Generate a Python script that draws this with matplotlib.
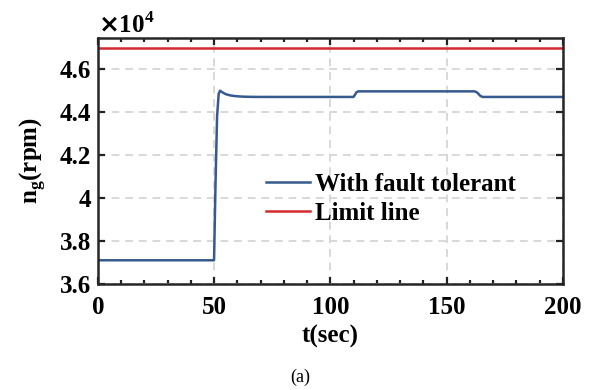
import matplotlib
matplotlib.use("Agg")
import matplotlib.pyplot as plt
from matplotlib.ticker import MultipleLocator, FuncFormatter

plt.rcParams['font.family'] = ['Liberation Serif', 'DejaVu Serif']
plt.rcParams['font.weight'] = 'bold'

# data (speed in rpm)
t_fault = [0, 50, 50.6, 51.3, 52.0, 52.6, 53.5, 55, 57, 59, 62, 66, 70,
           110, 110.6, 111.3, 112, 162, 162.8, 163.6, 164.4, 165.4, 200]
ng_fault = [37100, 37100, 40500, 43800, 44850, 44990, 44920, 44830, 44770,
            44740, 44715, 44703, 44700, 44700, 44800, 44920, 44960, 44960,
            44930, 44860, 44760, 44700, 44700]
t_limit = [0, 200]
ng_limit = [47000, 47000]

labels = ["With fault tolerant", "Limit line"]
blue = '#36598f'
red = '#d42a2f'

fig = plt.figure(figsize=(6, 3.9), dpi=100)
ax = fig.add_axes([0.163, 0.272, 0.775, 0.631])

ax.grid(True, which='major', color='#d8d8d8', linestyle=(0, (4, 3)), lw=1.4)
ax.set_axisbelow(True)

ax.plot(t_fault, ng_fault, color=blue, lw=1.8, label=labels[0])
ax.plot(t_limit, ng_limit, color=red, lw=1.8, label=labels[1])

ax.set_xlim(0, 200)
ax.set_ylim(36000, 47450)
ax.xaxis.set_major_locator(MultipleLocator(50))
ax.xaxis.set_minor_locator(MultipleLocator(10))
ax.yaxis.set_major_locator(MultipleLocator(2000))
ax.yaxis.set_major_formatter(FuncFormatter(lambda v, p: f"{v/1e4:g}"))

ax.tick_params(which='both', direction='in', top=True, right=True,
               labelsize=18, width=1.6, colors='#222222', labelcolor='black')
ax.tick_params(which='major', length=5, pad=5)
ax.tick_params(axis='x', which='major', pad=9)
ax.tick_params(which='minor', length=3)
for s in ax.spines.values():
    s.set_linewidth(1.8)
    s.set_color('#262626')

ax.set_xlabel("t(sec)", fontsize=18, fontweight='bold', labelpad=4)
ax.set_ylabel(r"n$_{\mathregular{g}}$(rpm)", fontsize=18, fontweight='bold', labelpad=8)

ax.text(0.0, 1.0, r"$\times$10$^{\mathregular{4}}$", transform=ax.transAxes,
        fontsize=18, fontweight='bold', ha='left', va='bottom')

leg = ax.legend(loc='center left', bbox_to_anchor=(0.34, 0.345), frameon=False,
                fontsize=18, handlelength=1.75, handletextpad=0.2, labelspacing=0.25,
                borderaxespad=0)

fig.text(0.5, 0.01, "(a)", ha='center', va='bottom', fontsize=13, fontweight='normal')

fig.savefig("out.png", dpi=100)
